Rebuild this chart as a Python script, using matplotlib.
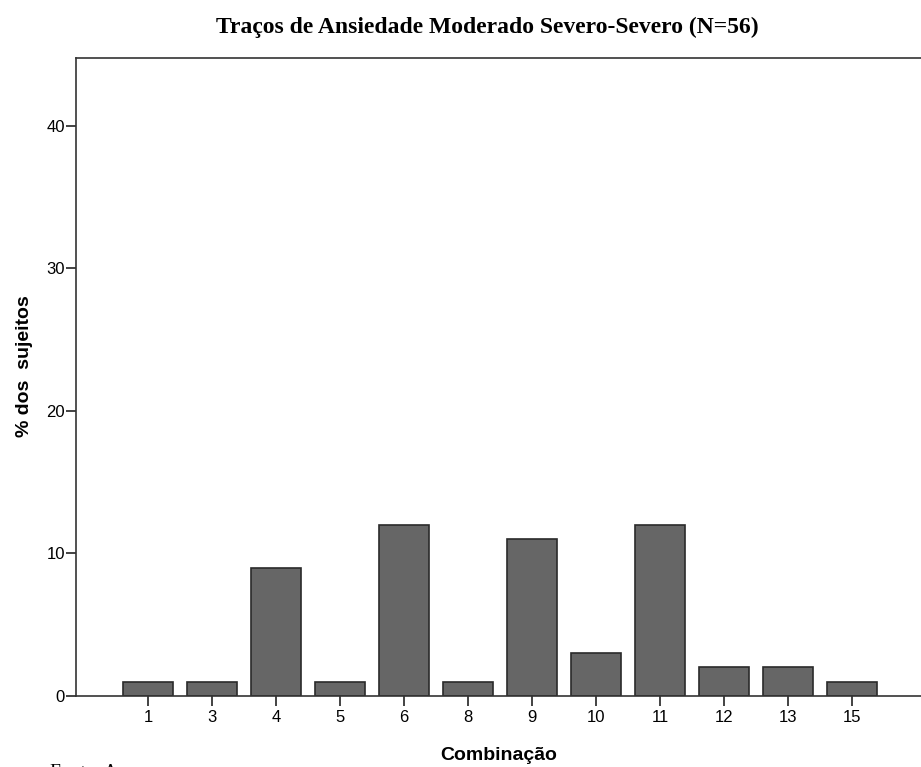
import matplotlib.pyplot as plt

# dados
combinacoes = ['1', '3', '4', '5', '6', '8', '9', '10', '11', '12', '13', '15']
percentagens = [1, 1, 9, 1, 12, 1, 11, 3, 12, 2, 2, 1]
yticks = [0, 10, 20, 30, 40]

plt.rcParams['font.family'] = ['Liberation Sans', 'DejaVu Sans']

fig = plt.figure(figsize=(9.21, 7.67), dpi=100)
ax = fig.add_axes([76 / 921, 1 - 696 / 767, 1 - 76 / 921, (696 - 58) / 767])

pos = range(len(combinacoes))
ax.bar(pos, percentagens, width=0.78, color='#666666', edgecolor='#2a2a2a', linewidth=1.2)

ax.set_xlim(-1.125, 12.08)
ax.set_ylim(0, 44.77)
ax.set_xticks(list(pos))
ax.set_xticklabels(combinacoes)
ax.set_yticks(yticks)
ax.tick_params(axis='both', labelsize=12, color='#222222', width=1.2, length=7, pad=1)
ax.tick_params(axis='x', pad=3)

ax.spines['right'].set_visible(False)
for s in ['left', 'bottom', 'top']:
    ax.spines[s].set_linewidth(1.2)
    ax.spines[s].set_color('#333333')

ax.set_xlabel('Combinação', fontsize=14, fontweight='bold', labelpad=16)
ax.set_ylabel('% dos  sujeitos', fontsize=14, fontweight='bold')
ax.yaxis.set_label_coords(-0.051, 0.517)

fig.text(487 / 921, 1 - 27 / 767, 'Traços de Ansiedade Moderado Severo-Severo (N=56)',
         ha='center', va='center', fontsize=17, fontweight='bold', family='Liberation Serif')
fig.text(50 / 921, 1 - 764 / 767, 'Fonte: A', ha='left', va='top', fontsize=14,
         family='Liberation Serif')

fig.savefig('out.png', dpi=100)
